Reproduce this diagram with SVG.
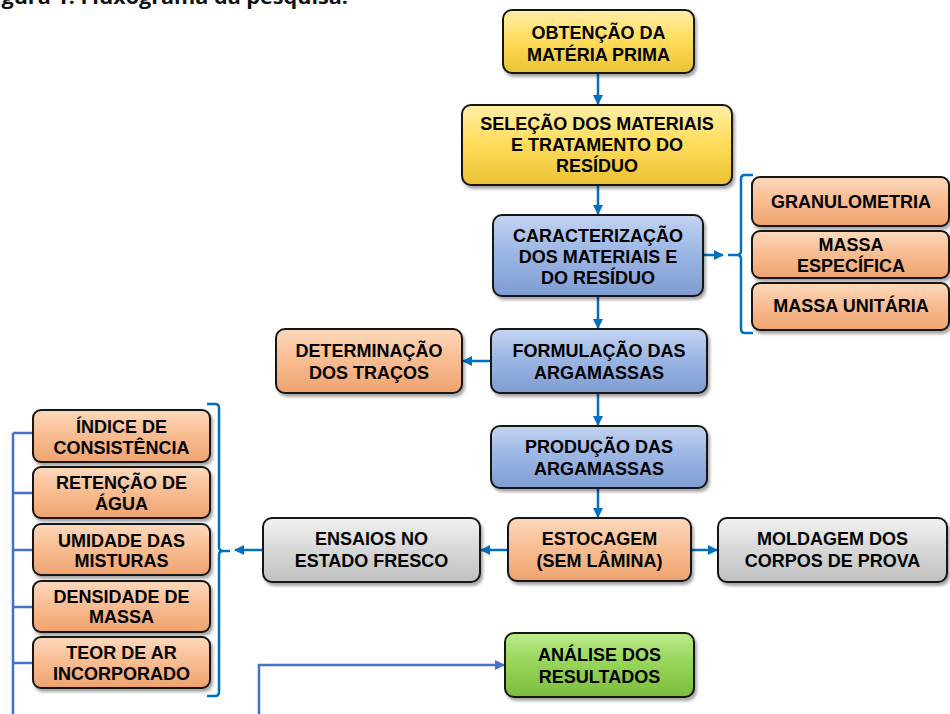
<svg xmlns="http://www.w3.org/2000/svg" width="950" height="714" viewBox="0 0 950 714">
<defs>
<style>
.box{stroke:#141414;stroke-width:2;filter:url(#sh)}
.t{font-family:"Liberation Sans",Arial,sans-serif;font-weight:bold;font-size:18px;fill:#000;text-anchor:middle}
.c{fill:none;stroke:#0070C0;stroke-width:2.5}
.c2{fill:none;stroke:#4472C4;stroke-width:2.5}
.title{font-family:"Open Sans","Liberation Sans",sans-serif;font-weight:bold;font-size:19px;fill:#111}
</style>
<filter id="sh" x="-10%" y="-20%" width="125%" height="150%">
<feDropShadow dx="2" dy="3" stdDeviation="1.8" flood-color="#000" flood-opacity="0.35"/>
</filter>
<linearGradient id="gy" x1="0" y1="0" x2="0" y2="1"><stop offset="0" stop-color="#FFEFA8"/><stop offset="0.45" stop-color="#FFDD5E"/><stop offset="1" stop-color="#EBC233"/></linearGradient>
<linearGradient id="gb" x1="0" y1="0" x2="0" y2="1"><stop offset="0" stop-color="#C3D4F1"/><stop offset="0.45" stop-color="#9DB7E4"/><stop offset="1" stop-color="#7F9DD3"/></linearGradient>
<linearGradient id="go" x1="0" y1="0" x2="0" y2="1"><stop offset="0" stop-color="#FCD9BD"/><stop offset="0.45" stop-color="#F9BE94"/><stop offset="1" stop-color="#EEA36F"/></linearGradient>
<linearGradient id="gg" x1="0" y1="0" x2="0" y2="1"><stop offset="0" stop-color="#F2F2F2"/><stop offset="0.45" stop-color="#DADADA"/><stop offset="1" stop-color="#BFBFBF"/></linearGradient>
<linearGradient id="gn" x1="0" y1="0" x2="0" y2="1"><stop offset="0" stop-color="#BCEB8C"/><stop offset="0.45" stop-color="#98D65A"/><stop offset="1" stop-color="#7CBC3C"/></linearGradient>
<marker id="a" viewBox="0 0 10 10" refX="9" refY="5" markerWidth="10" markerHeight="10" markerUnits="userSpaceOnUse" orient="auto"><path d="M0,0 L10,5 L0,10 z" fill="#0070C0"/></marker>
<marker id="a2" viewBox="0 0 10 10" refX="9" refY="5" markerWidth="10" markerHeight="10" markerUnits="userSpaceOnUse" orient="auto"><path d="M0,0 L10,5 L0,10 z" fill="#4472C4"/></marker>
</defs>
<rect width="950" height="714" fill="#fff"/>
<text class="title" x="-17" y="4" textLength="365" lengthAdjust="spacingAndGlyphs">Figura 1. Fluxograma da pesquisa.</text>

<g id="connectors">
<line class="c" x1="598" y1="73" x2="598" y2="104" marker-end="url(#a)"/>
<line class="c" x1="598" y1="186" x2="598" y2="214" marker-end="url(#a)"/>
<line class="c" x1="598" y1="297" x2="598" y2="328" marker-end="url(#a)"/>
<line class="c" x1="598" y1="394" x2="598" y2="425" marker-end="url(#a)"/>
<line class="c" x1="598" y1="489" x2="598" y2="517" marker-end="url(#a)"/>
<line class="c" x1="704" y1="255" x2="723" y2="255" marker-end="url(#a)"/>
<line class="c" x1="491" y1="361" x2="463" y2="361" marker-end="url(#a)"/>
<line class="c" x1="508" y1="550" x2="481" y2="550" marker-end="url(#a)"/>
<line class="c" x1="691" y1="550" x2="717" y2="550" marker-end="url(#a)"/>
<line class="c" x1="263" y1="550" x2="235" y2="550" marker-end="url(#a)"/>
<path class="c" d="M753,175 L745,175 Q741,175 741,179 L741,251 Q741,255 737,255 L728,255 M737,255 Q741,255 741,259 L741,329 Q741,333 745,333 L753,333"/>
<path class="c" d="M207,404 L215,404 Q219,404 219,408 L219,547 Q219,551 223,551 L230,551 M223,551 Q219,551 219,555 L219,692 Q219,696 215,696 L207,696"/>
<path class="c2" d="M13,714 L13,433 M13,433 L33,433 M13,493 L33,493 M13,550 L33,550 M13,607 L33,607 M13,663 L33,663"/>
<path class="c2" d="M259,714 L259,665 L504,665" marker-end="url(#a2)"/>
</g>

<g id="n1"><rect class="box" x="503" y="10" width="191" height="63" rx="9" fill="url(#gy)"/>
<text class="t" x="598.5" y="39">OBTENÇÃO DA</text><text class="t" x="598.5" y="61">MATÉRIA PRIMA</text></g>
<g id="n2"><rect class="box" x="462" y="105" width="270" height="80" rx="9" fill="url(#gy)"/>
<text class="t" x="597" y="130">SELEÇÃO DOS MATERIAIS</text><text class="t" x="597" y="151">E TRATAMENTO DO</text><text class="t" x="597" y="172">RESÍDUO</text></g>
<g id="n3"><rect class="box" x="493" y="215" width="210" height="81" rx="9" fill="url(#gb)"/>
<text class="t" x="598" y="242">CARACTERIZAÇÃO</text><text class="t" x="598" y="263">DOS MATERIAIS E</text><text class="t" x="598" y="284">DO RESÍDUO</text></g>
<g id="n4"><rect class="box" x="491" y="329" width="216" height="64" rx="9" fill="url(#gb)"/>
<text class="t" x="599" y="357">FORMULAÇÃO DAS</text><text class="t" x="599" y="379">ARGAMASSAS</text></g>
<g id="n5"><rect class="box" x="276" y="329" width="186" height="64" rx="9" fill="url(#go)"/>
<text class="t" x="369" y="357">DETERMINAÇÃO</text><text class="t" x="369" y="379">DOS TRAÇOS</text></g>
<g id="n6"><rect class="box" x="491" y="426" width="216" height="62" rx="9" fill="url(#gb)"/>
<text class="t" x="599" y="453">PRODUÇÃO DAS</text><text class="t" x="599" y="475">ARGAMASSAS</text></g>
<g id="n7"><rect class="box" x="508" y="518" width="183" height="63" rx="9" fill="url(#go)"/>
<text class="t" x="599.5" y="545">ESTOCAGEM</text><text class="t" x="599.5" y="567">(SEM LÂMINA)</text></g>
<g id="n8"><rect class="box" x="263" y="518" width="217" height="64" rx="9" fill="url(#gg)"/>
<text class="t" x="371.5" y="545">ENSAIOS NO</text><text class="t" x="371.5" y="567">ESTADO FRESCO</text></g>
<g id="n9"><rect class="box" x="718" y="518" width="229" height="64" rx="9" fill="url(#gg)"/>
<text class="t" x="832.5" y="545">MOLDAGEM DOS</text><text class="t" x="832.5" y="567">CORPOS DE PROVA</text></g>
<g id="n10"><rect class="box" x="505" y="633" width="189" height="64" rx="9" fill="url(#gn)"/>
<text class="t" x="599.5" y="661">ANÁLISE DOS</text><text class="t" x="599.5" y="683">RESULTADOS</text></g>
<g id="n11"><rect class="box" x="752" y="177" width="197" height="49" rx="8" fill="url(#go)"/>
<text class="t" x="851" y="208">GRANULOMETRIA</text></g>
<g id="n12"><rect class="box" x="752" y="231" width="197" height="47" rx="8" fill="url(#go)"/>
<text class="t" x="851" y="251">MASSA</text><text class="t" x="851" y="272">ESPECÍFICA</text></g>
<g id="n13"><rect class="box" x="752" y="283" width="197" height="47" rx="8" fill="url(#go)"/>
<text class="t" x="851" y="312">MASSA UNITÁRIA</text></g>
<g id="n14"><rect class="box" x="33" y="410" width="177" height="52" rx="8" fill="url(#go)"/>
<text class="t" x="121.5" y="433">ÍNDICE DE</text><text class="t" x="121.5" y="454">CONSISTÊNCIA</text></g>
<g id="n15"><rect class="box" x="33" y="467" width="177" height="51" rx="8" fill="url(#go)"/>
<text class="t" x="121.5" y="489">RETENÇÃO DE</text><text class="t" x="121.5" y="510">ÁGUA</text></g>
<g id="n16"><rect class="box" x="33" y="524" width="177" height="51" rx="8" fill="url(#go)"/>
<text class="t" x="121.5" y="547">UMIDADE DAS</text><text class="t" x="121.5" y="567">MISTURAS</text></g>
<g id="n17"><rect class="box" x="33" y="581" width="177" height="51" rx="8" fill="url(#go)"/>
<text class="t" x="121.5" y="603">DENSIDADE DE</text><text class="t" x="121.5" y="623">MASSA</text></g>
<g id="n18"><rect class="box" x="33" y="637" width="177" height="51" rx="8" fill="url(#go)"/>
<text class="t" x="121.5" y="659">TEOR DE AR</text><text class="t" x="121.5" y="680">INCORPORADO</text></g>
</svg>
